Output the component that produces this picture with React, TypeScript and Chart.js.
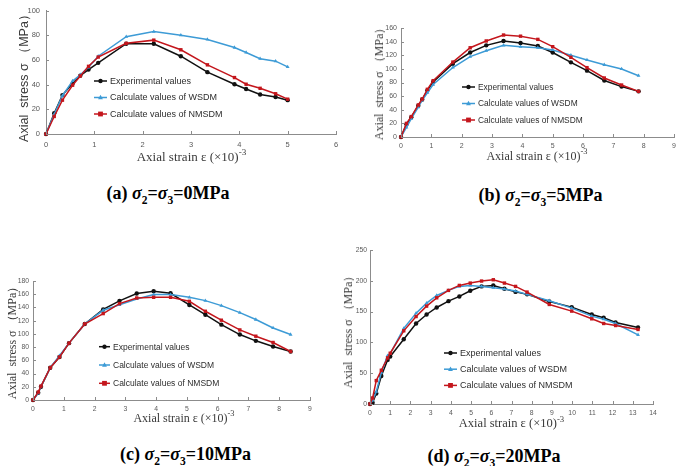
import React, { useEffect, useRef } from 'react';
import { Chart, registerables } from 'chart.js';

Chart.register(...registerables);

const AXIS_COLOR = '#8c8c8c';
const TICK_COLOR = '#595959';
const C_EXP = '#111111';
const C_WSDM = '#3d9bd6';
const C_NMSDM = '#c4161c';

const SERIES_NAMES = ['Experimental values', 'Calculate values of WSDM', 'Calculate values of NMSDM'];

// (a) σ2=σ3=0MPa
const aStrain = [0, 0.17, 0.34, 0.55, 0.71, 0.88, 1.08, 1.66, 2.23, 2.79, 3.34, 3.9, 4.14, 4.43, 4.75, 5.0];
const aExp = [0, 16.8, 31.5, 40.8, 47.3, 52.2, 57.6, 73.1, 73.1, 63, 50.1, 40.3, 36.4, 32, 30, 27.4];
const aWsdm = [0, 16, 31, 43, 48, 54, 63, 78.8, 82.9, 80, 76.5, 70, 66, 61, 59, 54.3];
const aNmsdm = [0, 14.2, 27.4, 39.5, 47, 54.8, 62.3, 73.4, 76, 68.2, 56, 45.7, 40.3, 37, 32.6, 28.2];

// (b) σ2=σ3=5MPa
const bStrain = [0, 0.18, 0.34, 0.57, 0.7, 0.87, 1.06, 1.71, 2.28, 2.81, 3.38, 3.94, 4.51, 5.0, 5.6, 6.13, 6.7, 7.27, 7.83];
const bExp = [0, 18.6, 29, 46, 55, 68.5, 80.7, 107.6, 124, 134.5, 141, 138, 133.6, 124, 109.6, 97.4, 83, 74, 67];
const bWsdm = [0, 14, 27, 44, 54, 65, 77, 102, 118, 126.7, 134.5, 132.6, 131, 127.7, 120, 113, 106, 99.8, 90];
const bNmsdm = [0, 20, 30, 47, 55.8, 70, 82.7, 110, 131, 141, 149.7, 148, 143.3, 132.6, 117, 101.8, 86.6, 76.3, 67];

// (c) σ2=σ3=10MPa
const cStrain = [0, 0.17, 0.26, 0.56, 0.86, 1.17, 1.68, 2.28, 2.81, 3.37, 3.92, 4.47, 5.08, 5.6, 6.12, 6.72, 7.24, 7.8, 8.37];
const cExp = [0, 11, 20, 48.8, 65, 86, 115, 137, 150, 161, 164.4, 161.4, 143.8, 129, 114, 99, 89.5, 81, 73.4];
const cWsdm = [0, 10.5, 20.6, 49, 67, 86, 115, 135.7, 144, 152.8, 159.4, 159.4, 155.3, 150.3, 142.8, 132.2, 121.7, 109, 99];
const cNmsdm = [0, 12, 21, 48.8, 65, 86, 115, 130.7, 145.8, 154.3, 155.3, 155.3, 149.3, 134.2, 120.7, 106, 96.5, 87, 73.4];

// (d) σ2=σ3=20MPa
const dStrain = [0, 0.13, 0.31, 0.56, 0.87, 1.0, 1.67, 2.28, 2.8, 3.3, 3.88, 4.42, 4.96, 5.52, 6.1, 6.65, 7.2, 7.77, 8.87, 9.98, 10.97, 11.56, 12.15, 13.26];
const dExp = [0, 2, 17, 45.5, 71.6, 77, 105, 130.7, 145.3, 156.7, 167, 174.6, 183.8, 190.9, 192.5, 187, 182, 178, 166.5, 157.3, 145.3, 140, 132.3, 124.2];
const dWsdm = [0, 6, 20, 51, 78.6, 82, 122.6, 147.5, 163.8, 176.2, 184.4, 190.9, 192.5, 190.9, 188.7, 186.5, 183.3, 178, 167.6, 155.6, 142.6, 137.7, 130.7, 112.3];
const dNmsdm = [0, 9.8, 38, 54.8, 74.8, 82.4, 118.8, 142, 158.9, 172.4, 184.4, 192.5, 196.3, 199.6, 201.7, 196.3, 190.9, 181.7, 161.6, 150.8, 138.3, 130.7, 127.4, 121];

const innerTicks = {
  id: 'innerTicks',
  afterDraw(chart: any) {
    const { ctx, chartArea, scales } = chart;
    ctx.save();
    ctx.strokeStyle = AXIS_COLOR;
    ctx.lineWidth = 1;
    scales.x.ticks.forEach((t: any) => {
      const px = Math.round(scales.x.getPixelForValue(t.value)) + 0.5;
      ctx.beginPath();
      ctx.moveTo(px, chartArea.bottom);
      ctx.lineTo(px, chartArea.bottom - 3);
      ctx.stroke();
    });
    scales.y.ticks.forEach((t: any) => {
      const py = Math.round(scales.y.getPixelForValue(t.value)) + 0.5;
      ctx.beginPath();
      ctx.moveTo(chartArea.left, py);
      ctx.lineTo(chartArea.left + 3, py);
      ctx.stroke();
    });
    ctx.restore();
  },
};

function drawMarker(ctx: CanvasRenderingContext2D, style: string, x: number, y: number, r: number, color: string) {
  ctx.fillStyle = color;
  ctx.beginPath();
  if (style === 'circle') {
    ctx.arc(x, y, r, 0, Math.PI * 2);
  } else if (style === 'triangle') {
    ctx.moveTo(x, y - r * 1.2);
    ctx.lineTo(x + r * 1.1, y + r * 0.8);
    ctx.lineTo(x - r * 1.1, y + r * 0.8);
    ctx.closePath();
  } else {
    ctx.rect(x - r, y - r, r * 2, r * 2);
  }
  ctx.fill();
}

const inlineLegend = {
  id: 'inlineLegend',
  afterDraw(chart: any, _args: any, opts: any) {
    const { ctx } = chart;
    ctx.save();
    ctx.font = `${opts.size}px "Liberation Sans", Arial, sans-serif`;
    ctx.textBaseline = 'middle';
    chart.data.datasets.forEach((ds: any, i: number) => {
      const y = opts.y + i * opts.gap;
      ctx.strokeStyle = ds.borderColor;
      ctx.lineWidth = 1.5;
      ctx.beginPath();
      ctx.moveTo(opts.x, y);
      ctx.lineTo(opts.x + opts.len, y);
      ctx.stroke();
      drawMarker(ctx, ds.pointStyle, opts.x + opts.len / 2, y, ds.pointRadius, ds.borderColor);
      ctx.fillStyle = '#2e2e2e';
      ctx.fillText(ds.label, opts.x + opts.len + 3, y + 0.5);
    });
    ctx.restore();
  },
};

type Spec = {
  left: number; top: number; width: number; height: number;
  padTop: number; padRight: number; yWidth: number; xHeight: number;
  xMax: number; yMax: number; yStep: number;
  tickSize: number; xTickPad: number; yTickPad: number;
  strain: number[]; exp: number[]; wsdm: number[]; nmsdm: number[];
  legend: { x: number; y: number; gap: number; len: number; size: number };
};

function Panel({ spec }: { spec: Spec }) {
  const ref = useRef<HTMLCanvasElement>(null);
  useEffect(() => {
    if (!ref.current) return;
    const mk = (vals: number[]) => spec.strain.map((x, i) => ({ x, y: vals[i] }));
    const ds = (label: string, vals: number[], color: string, style: string, r: number, order: number) => ({
      label,
      data: mk(vals),
      borderColor: color,
      backgroundColor: color,
      pointBackgroundColor: color,
      pointBorderColor: color,
      pointStyle: style,
      pointRadius: r,
      pointBorderWidth: 0,
      borderWidth: 1.5,
      tension: 0,
      showLine: true,
      clip: false,
      order,
    });
    const chart = new Chart(ref.current, {
      type: 'line',
      data: {
        datasets: [
          ds(SERIES_NAMES[0], spec.exp, C_EXP, 'circle', 2.2, 2),
          ds(SERIES_NAMES[1], spec.wsdm, C_WSDM, 'triangle', 2.2, 1),
          ds(SERIES_NAMES[2], spec.nmsdm, C_NMSDM, 'rect', 2.4, 0),
        ],
      },
      options: {
        responsive: false,
        animation: false,
        events: [],
        layout: { padding: { top: spec.padTop, right: spec.padRight, left: 0, bottom: 0 } },
        plugins: {
          legend: { display: false },
          tooltip: { enabled: false },
          inlineLegend: spec.legend,
        } as any,
        scales: {
          x: {
            type: 'linear',
            min: 0,
            max: spec.xMax,
            grid: { display: false, drawTicks: false, tickLength: 0 },
            border: { display: true, color: AXIS_COLOR, width: 1 },
            ticks: {
              stepSize: 1,
              autoSkip: false,
              maxRotation: 0,
              color: TICK_COLOR,
              padding: spec.xTickPad,
              font: { size: spec.tickSize, family: '"Liberation Sans", Arial, sans-serif' },
            },
            afterFit: (s: any) => { s.height = spec.xHeight; },
          },
          y: {
            type: 'linear',
            min: 0,
            max: spec.yMax,
            grid: { display: false, drawTicks: false, tickLength: 0 },
            border: { display: true, color: AXIS_COLOR, width: 1 },
            ticks: {
              stepSize: spec.yStep,
              autoSkip: false,
              color: TICK_COLOR,
              padding: spec.yTickPad,
              font: { size: spec.tickSize, family: '"Liberation Sans", Arial, sans-serif' },
            },
            afterFit: (s: any) => { s.width = spec.yWidth; },
          },
        },
      } as any,
      plugins: [innerTicks, inlineLegend],
    });
    return () => chart.destroy();
  }, [spec]);
  return (
    <canvas
      ref={ref}
      width={spec.width}
      height={spec.height}
      style={{ position: 'absolute', left: spec.left, top: spec.top, width: spec.width, height: spec.height, display: 'block' }}
    />
  );
}

const specA: Spec = {
  left: 0, top: 0, width: 345, height: 150,
  padTop: 5, padRight: 9, yWidth: 46, xHeight: 16,
  xMax: 6, yMax: 100, yStep: 20, tickSize: 7.5, xTickPad: 6, yTickPad: 6,
  strain: aStrain, exp: aExp, wsdm: aWsdm, nmsdm: aNmsdm,
  legend: { x: 94, y: 81, gap: 16.5, len: 13, size: 9 },
};
const specB: Spec = {
  left: 345, top: 0, width: 336, height: 152,
  padTop: 28, padRight: 3, yWidth: 56, xHeight: 15,
  xMax: 9, yMax: 160, yStep: 20, tickSize: 7, xTickPad: 5, yTickPad: 4,
  strain: bStrain, exp: bExp, wsdm: bWsdm, nmsdm: bNmsdm,
  legend: { x: 117, y: 87, gap: 16.5, len: 13, size: 8.4 },
};
const specC: Spec = {
  left: 0, top: 265, width: 320, height: 150,
  padTop: 16, padRight: 10, yWidth: 33, xHeight: 15,
  xMax: 9, yMax: 180, yStep: 20, tickSize: 6.8, xTickPad: 5, yTickPad: 4,
  strain: cStrain, exp: cExp, wsdm: cWsdm, nmsdm: cNmsdm,
  legend: { x: 99, y: 81.7, gap: 18.3, len: 11, size: 8.5 },
};
const specD: Spec = {
  left: 345, top: 235, width: 336, height: 182,
  padTop: 15, padRight: 28, yWidth: 25, xHeight: 13,
  xMax: 14, yMax: 250, yStep: 50, tickSize: 6.8, xTickPad: 5, yTickPad: 3,
  strain: dStrain, exp: dExp, wsdm: dWsdm, nmsdm: dNmsdm,
  legend: { x: 99, y: 118, gap: 16.2, len: 13, size: 9 },
};

const SERIF = '"Liberation Serif", "Times New Roman", serif';
const SANS = '"Liberation Sans", Arial, sans-serif';

function XTitle({ cx, cy, size }: { cx: number; cy: number; size: number }) {
  return (
    <div style={{ position: 'absolute', left: cx, top: cy, transform: 'translate(-50%,-50%)', whiteSpace: 'nowrap', fontFamily: SERIF, fontSize: size, color: '#3a3a3a', lineHeight: 1 }}>
      Axial strain ε (×10)<sup style={{ fontSize: size * 0.7, verticalAlign: 'top', position: 'relative', top: -2 }}>-3</sup>
    </div>
  );
}

function YTitle({ cx, cy, size, font }: { cx: number; cy: number; size: number; font: string }) {
  return (
    <div style={{ position: 'absolute', left: cx, top: cy, transform: 'translate(-50%,-50%) rotate(-90deg)', whiteSpace: 'pre', fontFamily: font, fontSize: size, color: '#3a3a3a', lineHeight: 1 }}>
      {'Axial  stress σ （MPa）'}
    </div>
  );
}

function Caption({ cx, cy, letter, val }: { cx: number; cy: number; letter: string; val: string }) {
  return (
    <div style={{ position: 'absolute', left: cx, top: cy, transform: 'translate(-50%,-50%)', whiteSpace: 'nowrap', fontFamily: SERIF, fontSize: 18, fontWeight: 'bold', color: '#000', lineHeight: 1 }}>
      ({letter}) <i>σ</i><sub style={{ fontSize: 11.5 }}>2</sub>=<i>σ</i><sub style={{ fontSize: 11.5 }}>3</sub>={val}MPa
    </div>
  );
}

export default function App() {
  useEffect(() => {
    document.body.style.margin = '0';
  }, []);
  return (
    <div style={{ position: 'fixed', left: 0, top: 0, width: 681, height: 466, background: '#fff', overflow: 'hidden' }}>
      <Panel spec={specA} />
      <Panel spec={specB} />
      <Panel spec={specC} />
      <Panel spec={specD} />
      <YTitle cx={24} cy={75} size={12.5} font={SANS} />
      <YTitle cx={379} cy={81} size={12} font={SERIF} />
      <YTitle cx={12} cy={340} size={12} font={SERIF} />
      <YTitle cx={348} cy={329} size={12} font={SERIF} />
      <XTitle cx={191.5} cy={156} size={13} />
      <XTitle cx={537} cy={156} size={12} />
      <XTitle cx={184} cy={418} size={12} />
      <XTitle cx={511.5} cy={423} size={12.5} />
      <Caption cx={168} cy={195} letter="a" val="0" />
      <Caption cx={540.5} cy={197} letter="b" val="5" />
      <Caption cx={185.5} cy={456} letter="c" val="10" />
      <Caption cx={494} cy={458} letter="d" val="20" />
    </div>
  );
}
